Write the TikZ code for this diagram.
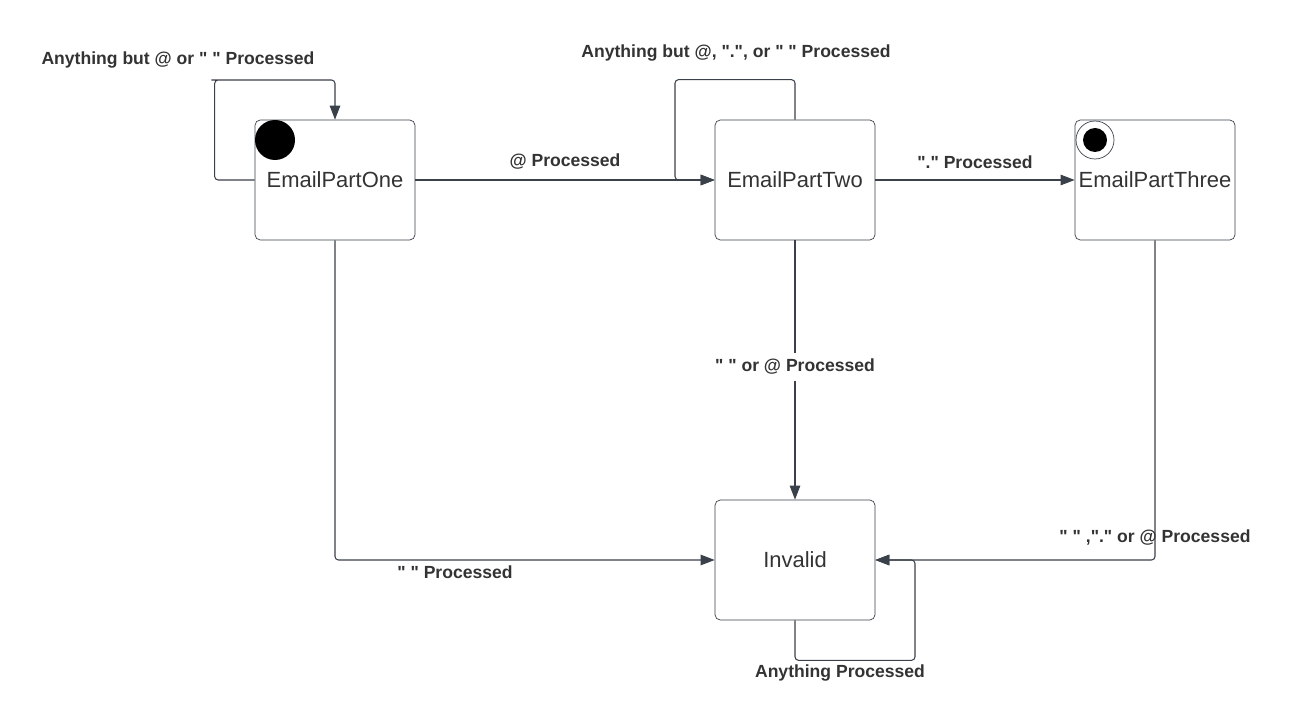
\documentclass[tikz,border=0pt]{standalone}
\usepackage{fontspec}
\setmainfont{Liberation Sans}
\usetikzlibrary{arrows.meta}

\definecolor{linegray}{HTML}{3A414A}
\definecolor{textgray}{HTML}{333333}
\newcommand{\dq}{\textquotedbl}

\tikzset{
  state/.style={draw=linegray, rounded corners=3pt, minimum width=160*0.02cm,
    minimum height=120*0.02cm, inner xsep=0pt, text=textgray,
    font=\fontsize{12.5}{14}\selectfont},
  trans/.style={draw=linegray, line width=0.6pt, rounded corners=2pt,
    -{Triangle[length=8pt,width=6pt]}},
  lbl/.style={text=textgray, font=\fontsize{10}{12}\selectfont\bfseries}
}

\begin{document}
\begin{tikzpicture}[x=0.02cm, y=-0.02cm]
        \useasboundingbox (0,0) rectangle (1291,726);

        % states
        \node[state] (one)   at (335,180) {EmailPartOne};
        \node[state] (two)   at (795,180) {EmailPartTwo};
        \node[state] (three) at (1155,180) {EmailPartThree};
        \node[state] (inv)   at (795,560) {Invalid};

        % start and end markers
        \fill (275,140) circle (20);
        \draw[linegray] (1095,140) circle (19);
        \fill (1095,140) circle (12);

        % loops
        \draw[trans] (one.west) -- ++(-40,0) |- (215,80) -| (one.north);
        \draw[trans] (two.north) -- ++(0,-40) -| (675,180) -- (two.west);
        \draw[trans] (inv.south) -- ++(0,40) -| (915,560) -- (inv.east);

        % transitions
        \draw[trans] (one.east) -- (two.west);
        \draw[trans] (two.east) -- (three.west);
        \draw[trans] (two.south) -- (inv.north);
        \draw[trans] (one.south) |- (inv.west);
        \draw[trans] (three.south) |- (inv.east);

        % labels
        \node[lbl] (l1) at (178,60)  {Anything but @ or \dq\ \dq\ Processed};
        \node[lbl] (l2) at (736,53)  {Anything but @, \dq.\dq, or \dq\ \dq\ Processed};
        \node[lbl] (l3) at (565,162) {@ Processed};
        \node[lbl] (l4) at (975,162) {\dq.\dq\ Processed};
        \node[lbl, fill=white] (l5) at (795,367) {\dq\ \dq\ or @ Processed};
        \node[lbl] (l6) at (455,572) {\dq\ \dq\ Processed};
        \node[lbl] (l7) at (1155,538) {\dq\ \dq\ ,\dq.\dq\ or @ Processed};
        \node[lbl] (l8) at (840,673) {Anything Processed};
\end{tikzpicture}
\end{document}
